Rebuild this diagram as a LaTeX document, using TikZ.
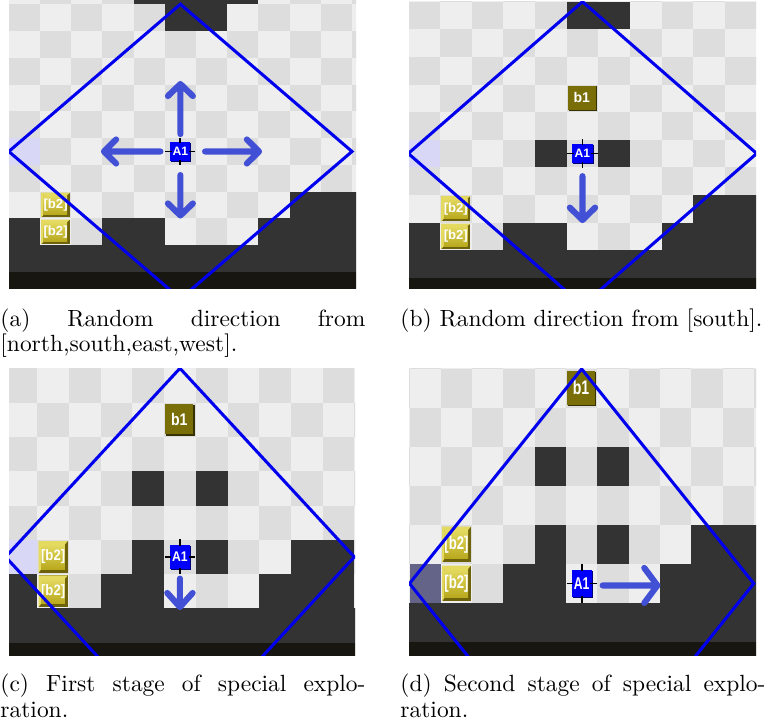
\documentclass[tikz,border=0pt]{standalone}
\usepackage{fontspec}
\usepackage{graphicx}
\newfontfamily\tilefont{Liberation Sans}
\definecolor{cl}{RGB}{238,238,238}
\definecolor{cg}{RGB}{221,221,221}
\definecolor{cd}{RGB}{51,51,51}
\definecolor{cs}{RGB}{24,22,16}
\definecolor{ctint}{RGB}{216,216,246}
\definecolor{ctintd}{RGB}{100,100,136}
\definecolor{carrow}{RGB}{66,80,214}
\definecolor{cdia}{RGB}{0,0,238}
\definecolor{caone}{RGB}{0,0,250}
\definecolor{caoned}{RGB}{0,0,120}
\definecolor{cbone}{RGB}{122,110,8}
\definecolor{cboned}{RGB}{55,50,4}
\definecolor{cbtwo}{RGB}{184,168,30}
\definecolor{cbtwol}{RGB}{228,218,96}
\definecolor{cbtwod}{RGB}{110,98,10}
\tikzset{
  diam/.style={draw=cdia, line width=1.3pt, line join=miter},
  mvarrow/.style={draw=carrow, line width=2.6pt, line cap=round, line join=round},
  tilelab/.style={text=white, inner sep=0pt},
  capt/.style={anchor=base west, inner sep=0pt, font=\fontsize{10}{12}\selectfont},
}
\newcommand\mychecker[1]{%
  \fill[cl] (-1,-2) rectangle (12,12);
  \foreach \ii in {-1,...,11}{\foreach \jj in {-2,...,11}{%
    \pgfmathtruncatemacro\pp{mod(\ii+\jj+#1+10,2)}%
    \ifnum\pp=0 \fill[cg] (\ii,\jj) rectangle ++(1,1);\fi}}}
\newcommand\mydark[1]{\foreach \cc/\rr in {#1}{\fill[cd] (\cc,\rr) rectangle ++(1,1);}}
% A1 tile: name, x, y, vertical stretch
\newcommand\myAone[4]{%
  \fill[caoned] (#2-0.29,#3-0.32) rectangle (#2+0.35,#3+0.38);
  \fill[caone] (#2-0.32,#3-0.35) rectangle (#2+0.32,#3+0.35);
  \draw[black,line width=0.8pt] (#2,#3-0.51)--(#2,#3-0.31) (#2,#3+0.31)--(#2,#3+0.51)
    (#2-0.48,#3)--(#2-0.28,#3) (#2+0.28,#3)--(#2+0.48,#3);
  \node[tilelab,font=\tilefont\bfseries\fontsize{5.2}{6}\selectfont] (#1) at (#2,#3) {\scalebox{1}[#4]{A1}};}
% b1 tile: name, col, row, stretch
\newcommand\mybone[4]{%
  \fill[cboned] (#2+0.07,#3+0.07) rectangle (#2+0.96,#3+0.96);
  \fill[cbone] (#2+0.04,#3+0.04) rectangle (#2+0.92,#3+0.92);
  \node[tilelab,font=\tilefont\bfseries\fontsize{6}{7}\selectfont] (#1) at (#2+0.48,#3+0.48) {\scalebox{1}[#4]{b1}};}
% b2 tile: name, col, row, stretch
\newcommand\mybtwo[4]{%
  \fill[cbtwod] (#2+0.04,#3+0.04) rectangle (#2+0.96,#3+0.96);
  \fill[cbtwol] (#2+0.04,#3+0.96) -- (#2+0.04,#3+0.04) -- (#2+0.96,#3+0.04) -- (#2+0.87,#3+0.13) -- (#2+0.12,#3+0.13) -- (#2+0.12,#3+0.86) -- cycle;
  \shade[top color=cbtwol, bottom color=cbtwo] (#2+0.12,#3+0.13) rectangle (#2+0.87,#3+0.86);
  \node[tilelab,font=\tilefont\bfseries\fontsize{5.6}{7}\selectfont] (#1) at (#2+0.5,#3+0.5) {\scalebox{1}[#4]{[b2]}};}
\begin{document}
\begin{tikzpicture}[x=0.4267pt,y=-0.4267pt]
\useasboundingbox (0,0) rectangle (764,727);
\fill[white] (0,0) rectangle (764,727);
% ---------------- panel (a)
\begin{scope}
 \clip (9,1) rectangle (356,288);
 \begin{scope}[shift={(8.8,4.2)},xscale=31.2,yscale=26.78]
  \mychecker{0}
  \fill[cd] (4,-1) rectangle (8,0);
  \mydark{5/0,6/0,9/7,10/7,11/7,0/8,3/8,4/8,8/8,9/8,10/8,11/8}
  \fill[cd] (-1,9) rectangle (12,10);
  \fill[cs] (-1,10) rectangle (12,11);
  \fill[ctint] (0,5) rectangle ++(1,1);
  \draw[mvarrow] (5.5,4.85) -- (5.5,2.98) (5.1,3.43) -- (5.5,2.98) -- (5.9,3.43);
  \draw[mvarrow] (5.5,6.38) -- (5.5,7.89) (5.1,7.44) -- (5.5,7.89) -- (5.9,7.44);
  \draw[mvarrow] (4.86,5.5) -- (3.05,5.5) (3.44,5.05) -- (3.05,5.5) -- (3.44,5.95);
  \draw[mvarrow] (6.29,5.5) -- (8.02,5.5) (7.63,5.05) -- (8.02,5.5) -- (7.63,5.95);
  \myAone{aoneA}{5.5}{5.5}{1}
  \mybtwo{btwoA1}{1}{7}{1}
  \mybtwo{btwoA2}{1}{8}{1}
  \draw[diam] (5.5,0) -- (11,5.5) -- (5.5,11) -- (0,5.5) -- cycle;
 \end{scope}
\end{scope}
% ---------------- panel (b)
\begin{scope}
 \clip (409,2) rectangle (756,288);
 \begin{scope}[shift={(408.3,1.7)},xscale=31.67,yscale=27.6]
  \mychecker{0}
  \mydark{5/0,6/0,4/5,6/5,9/7,10/7,0/8,3/8,4/8,8/8,9/8,10/8}
  \fill[cd] (-1,9) rectangle (12,10);
  \fill[cs] (-1,10) rectangle (12,11);
  \fill[ctint] (0,5) rectangle ++(1,1);
  \draw[mvarrow] (5.5,6.32) -- (5.5,7.91) (5.1,7.46) -- (5.5,7.91) -- (5.9,7.46);
  \mybone{boneB}{5}{3}{1}
  \myAone{aoneB}{5.5}{5.5}{1}
  \mybtwo{btwoB1}{1}{7}{1}
  \mybtwo{btwoB2}{1}{8}{1}
  \draw[diam] (5.5,0) -- (11,5.5) -- (5.5,11) -- (0,5.5) -- cycle;
 \end{scope}
\end{scope}
% ---------------- panel (c)
\begin{scope}
 \clip (9,368) rectangle (355,655);
 \begin{scope}[shift={(5.6,368.3)},xscale=31.7,yscale=34.3]
  \mychecker{0}
  \mydark{4/3,6/3,4/5,6/5,9/5,10/5,0/6,3/6,4/6,8/6,9/6,10/6}
  \fill[cd] (-1,7) rectangle (12,8);
  \fill[cs] (-1,8) rectangle (12,9);
  \fill[ctint] (0,5) rectangle ++(1,1);
  \draw[mvarrow] (5.5,6.13) -- (5.5,6.96) (5.1,6.55) -- (5.5,6.96) -- (5.9,6.55);
  \mybone{boneC}{5}{1}{1.2}
  \myAone{aoneC}{5.5}{5.5}{1.15}
  \mybtwo{btwoC1}{1}{5}{1.15}
  \mybtwo{btwoC2}{1}{6}{1.15}
  \draw[diam] (5.5,0) -- (11,5.5) -- (5.5,11) -- (0,5.5) -- cycle;
 \end{scope}
\end{scope}
% ---------------- panel (d)
\begin{scope}
 \clip (409,368) rectangle (756,655);
 \begin{scope}[shift={(409.5,369)},xscale=31.3,yscale=39]
  \mychecker{1}
  \mydark{4/2,6/2,4/4,6/4,9/4,10/4,3/5,4/5,8/5,9/5,10/5,11/4,11/5}
  \fill[ctintd] (0,5) rectangle ++(1,1);
  \fill[cd] (-1,6) rectangle (12,7);
  \fill[cs] (-1,7) rectangle (12,8);
  \draw[mvarrow] (6.17,5.55) -- (7.92,5.55) (7.5,5.1) -- (7.92,5.55) -- (7.5,6.0);
  \mybone{boneD}{5}{0}{1.4}
  \myAone{aoneD}{5.5}{5.5}{1.4}
  \mybtwo{btwoD1}{1}{4}{1.4}
  \mybtwo{btwoD2}{1}{5}{1.4}
  \draw[diam] (5.5,0) -- (11,5.5) -- (5.5,11) -- (0,5.5) -- cycle;
 \end{scope}
\end{scope}
% ---------------- captions
\node[capt] (capA1) at (0,326) {\makebox[155.7pt][s]{(a) Random direction from}};
\node[capt] (capA2) at (0,351) {[north,south,east,west].};
\node[capt] (capB1) at (400,326) {(b) Random direction from [south].};
\node[capt] (capC1) at (0,691) {\makebox[155.7pt][s]{(c) First stage of special explo-}};
\node[capt] (capC2) at (0,717) {ration.};
\node[capt] (capD1) at (400,691) {\makebox[155.7pt][s]{(d) Second stage of special explo-}};
\node[capt] (capD2) at (400,717) {ration.};
\end{tikzpicture}
\end{document}
